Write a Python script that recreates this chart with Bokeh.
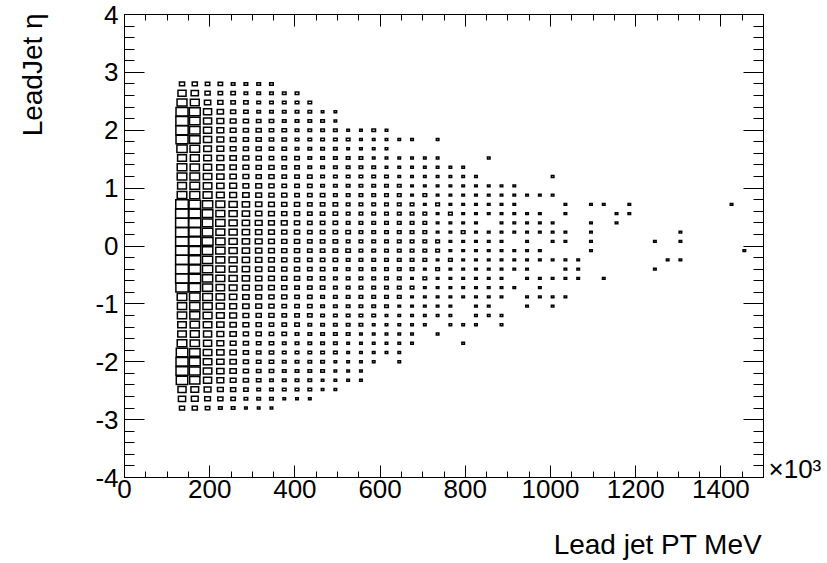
import math
from bokeh.plotting import figure
from bokeh.models import (ColumnDataSource, SingleIntervalTicker, FixedTicker, LinearAxis,
                          Range1d, CustomJSTickFormatter)
from bokeh.embed import file_html
from bokeh.resources import INLINE

# ---- histogram binning (TH2: 50 x 50 bins) ----
pt_lo, pt_hi, pt_bin = 0, 1500, 30          # GeV (x 10^3 MeV)
eta_lo, eta_hi, eta_bin = -4.0, 4.0, 0.16
first_pt_center = 135                        # first filled pt bin [120,150]

x_title = "Lead jet PT MeV"
y_title = "LeadJet η"

# eta bin centres of the filled rows, top to bottom
eta_rows = [2.80, 2.64, 2.48, 2.32, 2.16, 2.00, 1.84, 1.68, 1.52, 1.36, 1.20, 1.04,
            0.88, 0.72, 0.56, 0.40, 0.24, 0.08, -0.08, -0.24, -0.40, -0.56, -0.72,
            -0.88, -1.04, -1.20, -1.36, -1.52, -1.68, -1.84, -2.00, -2.16, -2.32,
            -2.48, -2.64, -2.80]

# bin contents per row, one character per pt bin (base-36 digit, '.' = empty)
counts_rows = [
    "44332222",
    "a843322222",
    "fc643322222",
    "mia6432222211",
    "nha7543322221",
    "nha75443322221121",
    "mha7544332222211111.1",
    "ge975443322221111",
    "cc9765433322222111111...1",
    "eda86544332222221111111",
    "eeb865443332222221111111.....1",
    "ceb875543332222222111111111",
    "efc976544333222222121111111111",
    "okgca8654433322222212111111...1.11.1.......1",
    "plhca865443332222222121111111.1...11",
    "pmhda8755433322222221111.11111..1.1",
    "plhca86544333322222211211111111.1......1",
    "pmida875443332222222211111.1.11.1....1.1",
    "plhda865443333222222211111111...1...........1",
    "plgca865443332222222121111111111......11",
    "pkgc986544332222222121111111..11.....1",
    "plgca865443322222212111111.11111.1",
    "nkfb97654333222222211111111.1",
    "eheb8654433222222211111111.1111",
    "dgda765433322222211111.11..1.1",
    "dfc9754433322222111111.111",
    "bdb86543332222211111.111.1",
    "bca7644332222211111.1",
    "eda7543322222111111...1",
    "khb864332222211111",
    "mib8643322221111.1",
    "mib864332222111",
    "kga754322221111",
    "a975432222211",
    "87543222111",
    "44322111",
]
count_max = 25

# ---- build boxes (ROOT "BOX" option: box side ~ sqrt(content / max)) ----
xs, ys, ws, hs = [], [], [], []
for eta, row in zip(eta_rows, counts_rows):
    for i, ch in enumerate(row):
        if ch == ".":
            continue
        n = int(ch, 36)
        if n <= 0:
            continue
        f = math.sqrt(n / count_max)
        xs.append(first_pt_center + pt_bin * i)
        ys.append(eta)
        ws.append(pt_bin * f)
        hs.append(eta_bin * f)
src = ColumnDataSource(dict(x=xs, y=ys, w=ws, h=hs))

FONT = "Liberation Sans"
FS = "26px"
TFS = "28px"
NBSP = "\u00a0"

p = figure(width=827, height=563, output_backend="svg", toolbar_location=None,
           x_range=Range1d(pt_lo, pt_hi), y_range=Range1d(eta_lo, eta_hi),
           min_border_left=124, min_border_right=64, min_border_top=14,
           min_border_bottom=86, tools="")
p.background_fill_color = "white"
p.border_fill_color = "white"
p.outline_line_color = "black"
p.outline_line_width = 1
p.grid.visible = False

p.rect(x="x", y="y", width="w", height="h", source=src,
       fill_alpha=0, line_color="black", line_width=1.5, line_join="miter")

int_fmt = CustomJSTickFormatter(code="return tick.toFixed(0);")
blank_fmt = CustomJSTickFormatter(code="return '';")

def style_axis(ax, ticker, major_in, minor_in, fmt):
    ax.ticker = ticker
    ax.formatter = fmt
    ax.axis_line_color = "black"
    ax.axis_line_width = 1
    ax.major_tick_line_color = "black"
    ax.minor_tick_line_color = "black"
    ax.major_tick_in = major_in
    ax.major_tick_out = 0
    ax.minor_tick_in = minor_in
    ax.minor_tick_out = 0
    ax.major_label_text_font = FONT
    ax.major_label_text_color = "black"
    ax.major_label_text_font_size = FS

def style_title(ax, text, pad, standoff):
    # ROOT right-aligns axis titles at the axis end: pad the centred label on its start side
    ax.axis_label = NBSP * pad + text
    ax.axis_label_text_font = FONT
    ax.axis_label_text_font_size = TFS
    ax.axis_label_text_font_style = "normal"
    ax.axis_label_text_color = "black"
    ax.axis_label_standoff = standoff
    ax.axis_label_align = "center"

xax = p.xaxis[0]
yax = p.yaxis[0]
style_axis(xax, SingleIntervalTicker(interval=200, num_minor_ticks=4), 12, 6, int_fmt)
style_axis(yax, SingleIntervalTicker(interval=1, num_minor_ticks=5), 20, 10, int_fmt)
xax.major_label_standoff = 2
yax.major_label_standoff = 6
style_title(xax, x_title, 55, 28)
style_title(yax, y_title, 44, 44)

top = LinearAxis()
style_axis(top, SingleIntervalTicker(interval=200, num_minor_ticks=4), 12, 6, blank_fmt)
top.major_label_standoff = 0
p.add_layout(top, "above")

right = LinearAxis()
style_axis(right, SingleIntervalTicker(interval=1, num_minor_ticks=5), 20, 10, blank_fmt)
right.major_label_standoff = 0
p.add_layout(right, "right")

# exponent label of the x axis, sits just right of the frame near its bottom
expo = LinearAxis(ticker=FixedTicker(ticks=[-3.85], minor_ticks=[]),
                  formatter=CustomJSTickFormatter(code="return '×10³';"))
expo.axis_line_color = None
expo.major_tick_line_color = None
expo.minor_tick_line_color = None
expo.major_tick_in = 0
expo.major_tick_out = 0
expo.major_label_standoff = 5
expo.major_label_text_font = FONT
expo.major_label_text_font_size = FS
expo.major_label_text_color = "black"
p.add_layout(expo, "right")

open("out.html", "w").write(file_html(p, INLINE))
